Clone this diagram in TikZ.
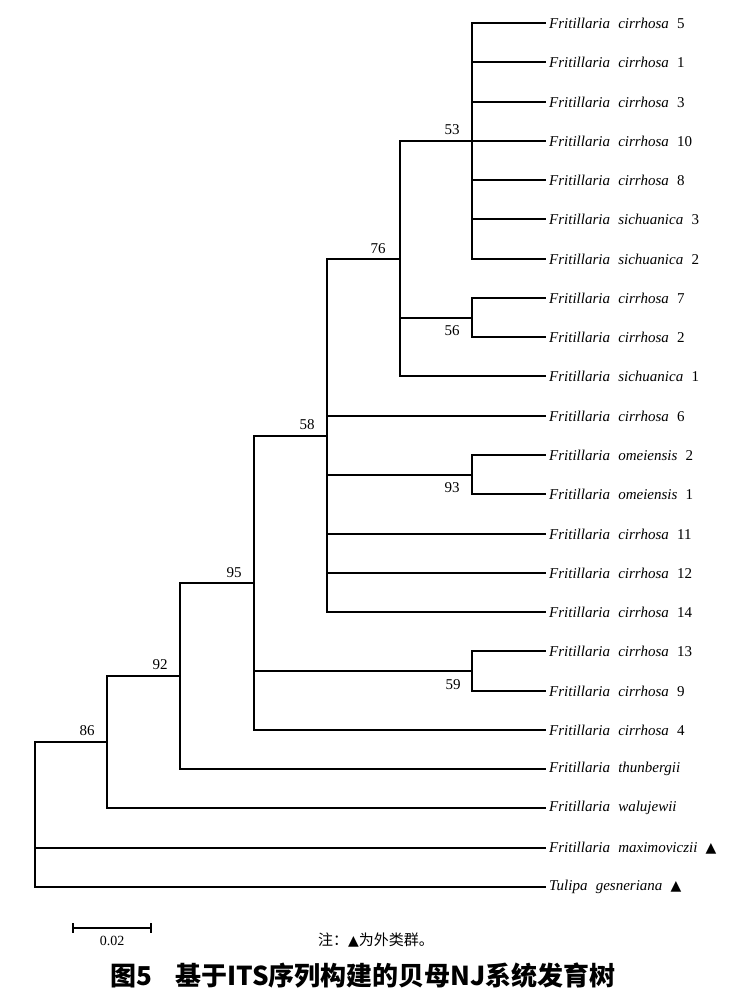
\documentclass[tikz,border=0pt]{standalone}
\usepackage{fontspec}
\setmainfont{Liberation Serif}[WordSpace=2.2]
\newfontfamily\cjk{Noto Sans CJK SC}
\newfontfamily\sym{DejaVu Sans}
\newcommand{\tri}{{\sym\fontsize{14}{14}\selectfont ▲}}
\begin{document}
\begin{tikzpicture}[x=1pt,y=-1pt,
  br/.style={line width=2pt, line cap=rect},
  leaf/.style={anchor=west, inner xsep=4pt, inner ysep=0pt, font=\fontsize{15}{15}\selectfont},
  bs/.style={inner sep=0pt, font=\fontsize{15}{15}\selectfont}]
\useasboundingbox (0,0) rectangle (747,1000);
% leaves
\foreach \i/\nm/\txt in {
 0/c5/{\textit{Fritillaria cirrhosa} 5},
 1/c1/{\textit{Fritillaria cirrhosa} 1},
 2/c3/{\textit{Fritillaria cirrhosa} 3},
 3/c10/{\textit{Fritillaria cirrhosa} 10},
 4/c8/{\textit{Fritillaria cirrhosa} 8},
 5/s3/{\textit{Fritillaria sichuanica} 3},
 6/s2/{\textit{Fritillaria sichuanica} 2},
 7/c7/{\textit{Fritillaria cirrhosa} 7},
 8/c2/{\textit{Fritillaria cirrhosa} 2},
 9/s1/{\textit{Fritillaria sichuanica} 1},
 10/c6/{\textit{Fritillaria cirrhosa} 6},
 11/o2/{\textit{Fritillaria omeiensis} 2},
 12/o1/{\textit{Fritillaria omeiensis} 1},
 13/c11/{\textit{Fritillaria cirrhosa} 11},
 14/c12/{\textit{Fritillaria cirrhosa} 12},
 15/c14/{\textit{Fritillaria cirrhosa} 14},
 16/c13/{\textit{Fritillaria cirrhosa} 13},
 17/c9/{\textit{Fritillaria cirrhosa} 9},
 18/c4/{\textit{Fritillaria cirrhosa} 4},
 19/thu/{\textit{Fritillaria thunbergii}},
 20/wal/{\textit{Fritillaria walujewii}},
 21/max/{\textit{Fritillaria maximoviczii} \tri},
 22/tul/{\textit{Tulipa gesneriana} \tri}}
 {\node[leaf] (\nm) at (545,{round(23+39.27*\i)}) {\txt};}
% internal nodes
\coordinate (n53) at (472,141);
\coordinate (n56) at (472,318);
\coordinate (n76) at (400,259);
\coordinate (n93) at (472,475);
\coordinate (n58) at (327,436);
\coordinate (n59) at (472,671);
\coordinate (n95) at (254,583);
\coordinate (n92) at (180,676);
\coordinate (n86) at (107,742);
\coordinate (root) at (35,848);
% branches
\foreach \c in {c5,c1,c3,c10,c8,s3,s2} \draw[br] (n53) |- (\c.west);
\foreach \c in {c7,c2} \draw[br] (n56) |- (\c.west);
\draw[br] (n76) |- (n53);
\draw[br] (n76) |- (n56);
\draw[br] (n76) |- (s1.west);
\foreach \c in {o2,o1} \draw[br] (n93) |- (\c.west);
\draw[br] (n58) |- (n76);
\draw[br] (n58) |- (n93);
\foreach \c in {c6,c11,c12,c14} \draw[br] (n58) |- (\c.west);
\foreach \c in {c13,c9} \draw[br] (n59) |- (\c.west);
\draw[br] (n95) |- (n58);
\draw[br] (n95) |- (n59);
\draw[br] (n95) |- (c4.west);
\draw[br] (n92) |- (n95);
\draw[br] (n92) |- (thu.west);
\draw[br] (n86) |- (n92);
\draw[br] (n86) |- (wal.west);
\draw[br] (root) |- (n86);
\draw[br] (root) |- (max.west);
\draw[br] (root) |- (tul.west);
% bootstrap values
\node[bs] (b53) at (452,130) {53};
\node[bs] (b76) at (378,249) {76};
\node[bs] (b58) at (307,425) {58};
\node[bs] (b95) at (234,573) {95};
\node[bs] (b92) at (160,665) {92};
\node[bs] (b86) at (87,731) {86};
\node[bs] (b56) at (452,331) {56};
\node[bs] (b93) at (452,488) {93};
\node[bs] (b59) at (453,685) {59};
% scale bar
\coordinate (sbl) at (73,928);
\coordinate (sbr) at (151,928);
\draw[line width=2pt] (sbl) -- (sbr);
\draw[line width=2pt] ([yshift=5pt]sbl) -- ([yshift=-5pt]sbl);
\draw[line width=2pt] ([yshift=5pt]sbr) -- ([yshift=-5pt]sbr);
\node[bs, font=\fontsize{14}{14}\selectfont] (sbt) at (112,941) {0.02};
% note and caption
\node[inner sep=0pt, font=\cjk\fontsize{15}{15}\selectfont] (note) at (376,940) {注：{\sym\fontsize{14}{14}\selectfont ▲}为外类群。};
\node[inner sep=0pt, font=\cjk\bfseries\fontsize{26}{26}\selectfont] (cap) at (363,976) {图5\hspace{0.9em}基于ITS序列构建的贝母NJ系统发育树};
\end{tikzpicture}
\end{document}
